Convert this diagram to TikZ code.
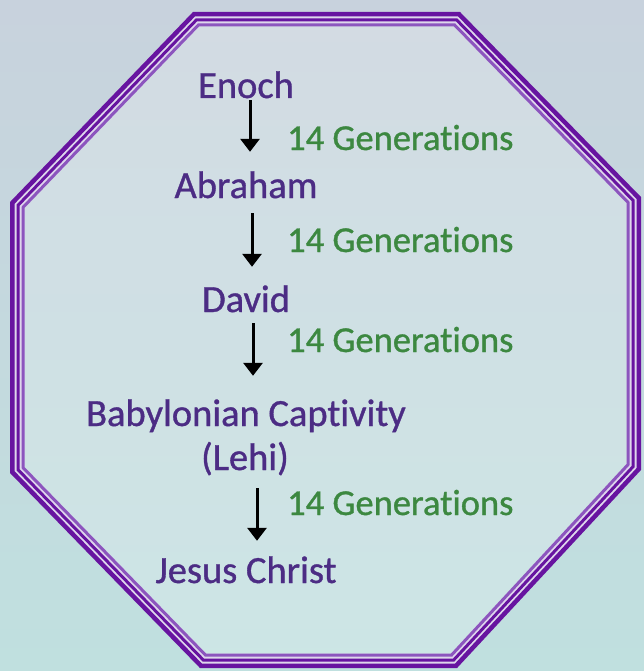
\documentclass[tikz,border=0pt]{standalone}
\usepackage{fontspec}
\setmainfont{Carlito}[Ligatures=NoCommon, FakeBold=0.9]
\usetikzlibrary{arrows.meta}
\tikzset{>={Triangle[width=19pt,length=13pt]}}
\definecolor{bgtop}{RGB}{200,210,221}
\definecolor{bgbot}{RGB}{192,224,223}
\definecolor{rim}{RGB}{103,20,160}
\definecolor{rimlight}{RGB}{140,85,190}
\definecolor{rimgap}{RGB}{222,214,236}
\definecolor{name}{RGB}{76,44,132}
\definecolor{gen}{RGB}{60,136,64}
% octagon path, inset by #1 from the outer edge
\newcommand{\octo}[1]{
	(193+0.414*#1, 12+#1)--(460-0.414*#1, 12+#1)--(641-#1, 197+0.414*#1)--(641-#1, 470-0.414*#1)
	--(457-0.414*#1, 668-#1)--(200+0.414*#1, 668-#1)--(10+#1, 473-0.414*#1)--(10+#1, 202+0.414*#1)--cycle
}

\begin{document}
\begin{tikzpicture}[x=1pt, y=-1pt,
    who/.style={text=name, anchor=base, inner sep=0pt, text height=24pt, text depth=0pt,
        font=\fontsize{38.5}{44}\selectfont},
    count/.style={text=gen, anchor=base west, inner sep=0pt, font=\fontsize{36.5}{44}\selectfont},
    down/.style={line width=3pt, ->}]
    \useasboundingbox (0, 0) rectangle (644, 671);
    \fill[top color=bgtop, bottom color=bgbot] (0, 0) rectangle (644, 671);
    \fill[white, opacity=.2] \octo{7};
    % triple rim
    \draw[rimgap, line width=14pt] \octo{7.5};
    \draw[rim, line width=4.5pt] \octo{2.25};
    \draw[rim, line width=3pt] \octo{8};
    \draw[rimlight, line width=3pt] \octo{13};

    \node[who] (enoch) at (246, 98) {Enoch};
    \node[who] (abraham) at (246, 198) {Abraham};
    \node[who] (david) at (246, 312) {David};
    \node[who] (babylon) at (246, 426) {Babylonian Captivity};
    \node[who] (lehi) at (245, 470) {(Lehi)};
    \node[who] (jesus) at (246, 583) {Jesus Christ};

    \foreach \a/\b/\dx/\s/\e in {enoch/abraham/4/2/22, abraham/david/6/15/21,
        david/babylon/7/11/26, lehi/jesus/12/18/18}
        \draw[down, shorten <=\s pt, shorten >=\e pt]
            ([xshift=\dx pt]\a.south)--([xshift=\dx pt]\a.south |- \b.north);

    \node[count] (gen1) at (287, 150) {14 Generations};
    \node[count] (gen2) at (287, 252) {14 Generations};
    \node[count] (gen3) at (287, 352) {14 Generations};
    \node[count] (gen4) at (287, 515) {14 Generations};
\end{tikzpicture}
\end{document}
